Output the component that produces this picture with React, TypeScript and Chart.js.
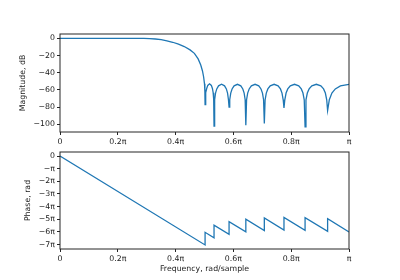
import React, { useEffect, useRef } from "react";
import { Chart, registerables } from "chart.js";

Chart.register(...registerables);

// Frequency in units of pi rad/sample
const magFreq = [
  0, 0.1, 0.2, 0.26, 0.29, 0.31, 0.33, 0.35, 0.37, 0.39, 0.41, 0.43, 0.45, 0.465, 0.478, 0.487, 0.493, 0.497, 0.5, 0.5013, 0.502,
  0.5032, 0.5051, 0.5076, 0.5113, 0.5175, 0.5237, 0.5274, 0.5299, 0.5318, 0.533,
  0.5351, 0.5382, 0.5424, 0.5486, 0.559, 0.5694, 0.5756, 0.5798, 0.5829, 0.585,
  0.5873, 0.5908, 0.5954, 0.6024, 0.614, 0.6256, 0.6326, 0.6372, 0.6407, 0.643,
  0.6456, 0.6494, 0.6545, 0.6622, 0.675, 0.6878, 0.6955, 0.7006, 0.7044, 0.707,
  0.7097, 0.7138, 0.7192, 0.7274, 0.741, 0.7546, 0.7628, 0.7682, 0.7723, 0.775,
  0.7779, 0.7823, 0.7881, 0.7969, 0.8115, 0.8261, 0.8349, 0.8407, 0.8451, 0.848,
  0.8511, 0.8558, 0.862, 0.8714, 0.887, 0.9026, 0.912, 0.9182, 0.9229, 0.926,
  0.9319, 0.9408, 0.9526, 0.9704, 1.0,
];

// Magnitude in dB
const magDb = [
  0, 0, 0, -0.05, -0.15, -0.35, -0.8, -1.6, -2.9, -4.6, -6.8, -9.6, -13.5, -17.5, -24, -31, -38, -45, -53, -62, -77,
  -71, -63.2, -58.4, -54.8, -53, -54.8, -58.4, -63.2, -71, -102,
  -71.5, -63.7, -58.9, -55.3, -53.5, -55.3, -58.9, -63.7, -71.5, -80,
  -71.5, -63.7, -58.9, -55.3, -53.5, -55.3, -58.9, -63.7, -71.5, -101,
  -71.5, -63.7, -58.9, -55.3, -53.5, -55.3, -58.9, -63.7, -71.5, -99,
  -71.5, -63.7, -58.9, -55.3, -53.5, -55.3, -58.9, -63.7, -71.5, -81,
  -71.5, -63.7, -58.9, -55.3, -53.5, -55.3, -58.9, -63.7, -71.5, -103,
  -71.5, -63.7, -58.9, -55.3, -53.5, -55.3, -58.9, -63.7, -71.5, -84,
  -71.5, -63.7, -58.9, -55.3, -53.5,
];

// Phase (unwrapped) in units of pi rad
const phaseFreq = [0, 0.502, 0.502, 0.533, 0.533, 0.585, 0.585, 0.643, 0.643, 0.707, 0.707, 0.775, 0.775, 0.848, 0.848, 0.926, 0.926, 1.0];
const phasePi = [0, -7.03, -6.03, -6.46, -5.46, -6.19, -5.19, -6.0, -5.0, -5.9, -4.9, -5.85, -4.85, -5.87, -4.87, -5.96, -4.96, -6.0];

const freqTicks = [0, 0.2, 0.4, 0.6, 0.8, 1];
const freqTickLabels = ["0", "0.2\u03c0", "0.4\u03c0", "0.6\u03c0", "0.8\u03c0", "\u03c0"];
const magTicks = [-100, -80, -60, -40, -20, 0];
const phaseTicks = [-7, -6, -5, -4, -3, -2, -1, 0];

const FONT = { family: "'DejaVu Sans', sans-serif", size: 7.8 };
const TEXT = "#1a1a1a";
const LINE = "#1f77b4";

const framePlugin = {
  id: "frame",
  afterDatasetsDraw(chart: any) {
    const { ctx, chartArea } = chart;
    const { left, top, right, bottom } = chartArea;
    ctx.save();
    ctx.strokeStyle = "#262626";
    ctx.lineWidth = 1;
    ctx.strokeRect(left, top, right - left, bottom - top);
    ctx.restore();
  },
};

function minusLabel(s: string) {
  return s.replace("-", "\u2212");
}

function makeX(height: number, title: string | null) {
  return {
    type: "linear",
    min: 0,
    max: 1,
    afterBuildTicks: (s: any) => {
      s.ticks = freqTicks.map((v) => ({ value: v }));
    },
    afterFit: (s: any) => {
      s.height = height;
    },
    ticks: {
      font: FONT,
      color: TEXT,
      padding: 2,
      maxRotation: 0,
      autoSkip: false,
      callback: (v: number) => {
        const i = freqTicks.findIndex((t) => Math.abs(t - v) < 1e-6);
        return i >= 0 ? freqTickLabels[i] : "";
      },
    },
    grid: { display: true, drawOnChartArea: false, drawTicks: true, tickLength: 3, color: "#262626", lineWidth: 1 },
    border: { display: false },
    title: title
      ? { display: true, text: title, font: FONT, color: TEXT, padding: { top: 0, bottom: 6.3 } }
      : { display: false },
  };
}

function makeY(min: number, max: number, ticks: number[], fmt: (v: number) => string, title: string, titlePad: number) {
  return {
    type: "linear",
    min,
    max,
    afterBuildTicks: (s: any) => {
      s.ticks = ticks.map((v) => ({ value: v }));
    },
    afterFit: (s: any) => {
      s.width = 60;
    },
    ticks: { font: FONT, color: TEXT, padding: 2, autoSkip: false, callback: (v: number) => fmt(v) },
    grid: { display: true, drawOnChartArea: false, drawTicks: true, tickLength: 3, color: "#262626", lineWidth: 1 },
    border: { display: false },
    title: { display: true, text: title, font: FONT, color: TEXT, padding: { top: titlePad, bottom: 0 } },
  };
}

export default function App() {
  const topRef = useRef<HTMLCanvasElement>(null);
  const botRef = useRef<HTMLCanvasElement>(null);

  useEffect(() => {
    const magData = magFreq.map((f, i) => ({ x: f, y: magDb[i] }));
    const phaseData = phaseFreq.map((f, i) => ({ x: f, y: phasePi[i] }));

    const c1 = new Chart(topRef.current as HTMLCanvasElement, {
      type: "line",
      data: {
        datasets: [
          { data: magData, borderColor: LINE, borderWidth: 1.3, pointRadius: 0, tension: 0, fill: false },
        ],
      },
      options: {
        animation: false,
        responsive: false,
        layout: { padding: { top: 34, left: 0, right: 51, bottom: 128 } },
        plugins: { legend: { display: false }, tooltip: { enabled: false } },
        scales: {
          x: makeX(20, null) as any,
          y: makeY(-109, 5, magTicks, (v) => minusLabel(String(v)), "Magnitude, dB", 18.3) as any,
        },
      },
      plugins: [framePlugin],
    });

    const c2 = new Chart(botRef.current as HTMLCanvasElement, {
      type: "line",
      data: {
        datasets: [
          { data: phaseData, borderColor: LINE, borderWidth: 1.3, pointRadius: 0, tension: 0, fill: false },
        ],
      },
      options: {
        animation: false,
        responsive: false,
        layout: { padding: { top: 152, left: 0, right: 51, bottom: 0 } },
        plugins: { legend: { display: false }, tooltip: { enabled: false } },
        scales: {
          x: makeX(31, "Frequency, rad/sample") as any,
          y: makeY(
            -7.35,
            0.32,
            phaseTicks,
            (v) => (v === 0 ? "0" : v === -1 ? "\u2212\u03c0" : "\u2212" + Math.abs(v) + "\u03c0"),
            "Phase, rad",
            23.3
          ) as any,
        },
      },
      plugins: [framePlugin],
    });

    return () => {
      c1.destroy();
      c2.destroy();
    };
  }, []);

  const style: React.CSSProperties = { position: "absolute", left: 0, top: 0, width: 400, height: 280 };
  return (
    <div style={{ position: "absolute", left: 0, top: 0, width: 400, height: 280, background: "#fff" }}>
      <canvas ref={topRef} width={400} height={280} style={style} />
      <canvas ref={botRef} width={400} height={280} style={style} />
    </div>
  );
}
